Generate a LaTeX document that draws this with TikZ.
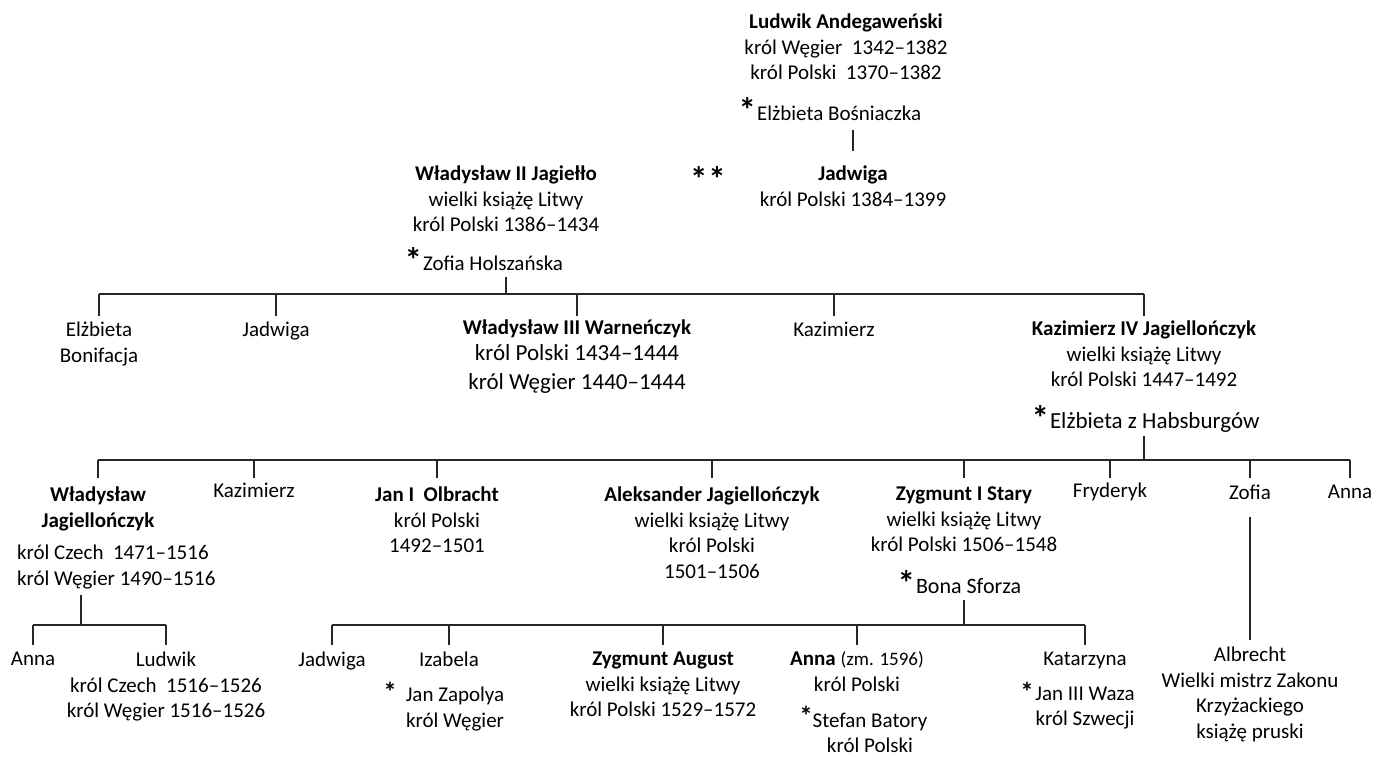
\documentclass[tikz,border=0pt]{standalone}
\usepackage{fontspec}
\setmainfont{Carlito}
\newcommand{\astx}{{\fontsize{35}{35}\selectfont\bfseries *}}
\newcommand{\asts}{{\fontsize{27}{27}\selectfont\bfseries *}}
\begin{document}
\begin{tikzpicture}[x=1pt,y=-1pt,
  every node/.style={inner sep=0pt, outer sep=0pt, align=center, font=\fontsize{21}{25.5}\selectfont, text=black},
  blk/.style={anchor=north},
  big/.style={font=\fontsize{23}{28.5}\selectfont},
  ln/.style={line width=1.3pt, draw=black!85},
  thk/.style={line width=2.6pt, draw=black!85}]
\useasboundingbox (0,0) rectangle (1373,758);

% level 0
\node[blk] (ludwik) at (846,14) {\textbf{Ludwik Andegaweński}\\król Węgier\ \ 1342–1382\\król Polski\ \ 1370–1382};
\node[anchor=base west] (elzb) at (757,120) {Elżbieta Bośniaczka};
\node[anchor=base east] (st1) at ([xshift=-1pt,yshift=-2pt]elzb.base west) {\astx};
\node[blk] (jadw) at (853,166) {\textbf{Jadwiga}\\król Polski 1384–1399};
\node[anchor=base] (st2) at (708,191) {\astx\hspace{1pt}\astx};
\node[blk] (wl2) at (506,166) {\textbf{Władysław II Jagiełło}\\wielki książę Litwy\\król Polski 1386–1434};
\node[anchor=base west] (zofh) at (423,270) {Zofia Holszańska};
\node[anchor=base east] (st3) at ([xshift=-1pt,yshift=-2pt]zofh.base west) {\astx};
\draw[ln] ([yshift=-10pt]elzb.south -| jadw.north) -- ([yshift=15pt]jadw.north);

% level 1
\coordinate (bus1) at (0,294);
\coordinate (end1) at (0,316);
\node[blk] (elzbn) at (99,322) {Elżbieta\\Bonifacja};
\node[blk] (jad2) at (276,322) {Jadwiga};
\node[blk] (wl3) at (577,320) {\textbf{Władysław III Warneńczyk}};
\node[blk,big] (wl3t) at (577,345) {król Polski 1434–1444\\król Węgier 1440–1444};
\node[blk] (kaz1) at (834,322) {Kazimierz};
\node[blk] (kaz4) at (1144,321) {\textbf{Kazimierz IV Jagiellończyk}\\wielki książę Litwy\\król Polski 1447–1492};
\node[anchor=base west,big] (elzh) at (1050,428) {Elżbieta z Habsburgów};
\node[anchor=base east] (st4) at ([xshift=-1pt,yshift=-2pt]elzh.base west) {\astx};
\draw[ln] ([yshift=-7pt]zofh.south -| wl2.south) -- (wl2.south |- bus1);
\draw[ln] (elzbn.north |- bus1) -- (kaz4.north |- bus1);
\foreach \n in {elzbn,jad2,wl3,kaz1,kaz4} \draw[ln] (\n.north |- bus1) -- (\n.north |- end1);

% level 2
\coordinate (bus2) at (0,460);
\coordinate (end2) at (0,478);
\coordinate (thk2) at (514,460);
\node[blk] (wj) at (98,487) {\textbf{Władysław}\\\textbf{Jagiellończyk}};
\node[anchor=north west,align=left] (wjt) at (17,545) {król Czech\ \ 1471–1516\\król Węgier 1490–1516};
\node[blk] (kaz2) at (254,483) {Kazimierz};
\node[blk] (jan) at (437,487) {\textbf{Jan I\ \ Olbracht}\\król Polski\\1492–1501};
\node[blk] (alek) at (712,487) {\textbf{Aleksander Jagiellończyk}\\wielki książę Litwy\\król Polski\\1501–1506};
\node[blk] (zyg) at (964,487) {\textbf{Zygmunt I Stary}\\wielki książę Litwy\\król Polski 1506–1548};
\node[anchor=base west,font=\fontsize{22}{26}\selectfont] (bona) at (916,593) {Bona Sforza};
\node[anchor=base east] (st5) at ([xshift=-1pt,yshift=-2pt]bona.base west) {\astx};
\node[blk] (fry) at (1110,483) {Fryderyk};
\node[blk] (zof) at (1250,485) {Zofia};
\node[blk] (anna1) at (1350,485) {Anna};
\node[blk] (albr) at (1250,647) {Albrecht\\Wielki mistrz Zakonu\\Krzyżackiego\\książę pruski};
\draw[ln] ([yshift=-4pt]elzh.south -| kaz4.south) -- (kaz4.south |- bus2);
\draw[ln] (wj.north |- bus2) -- (anna1.north |- bus2);
\draw[thk] (wj.north |- bus2) -- (thk2);
\foreach \n in {wj,kaz2,jan,alek,zyg,fry,zof,anna1} \draw[ln] (\n.north |- bus2) -- (\n.north |- end2);
\draw[ln] ([yshift=-17pt]zof.south) -- ([yshift=7pt]albr.north);

% level 3 (Wladyslaw's children)
\coordinate (bus3) at (0,625);
\coordinate (end3) at (0,645);
\coordinate (wjstem) at (81,0);
\node[blk] (annaw) at (33,652) {Anna};
\node[blk] (ludw) at (166,652) {Ludwik\\król Czech\ \ 1516–1526\\król Węgier 1516–1526};
\draw[ln] ([yshift=-6pt]wjt.south -| wjstem) -- (wjstem |- bus3);
\draw[ln] (annaw.north |- bus3) -- (ludw.north |- bus3);
\foreach \n in {annaw,ludw} \draw[ln] (\n.north |- bus3) -- (\n.north |- end3);

% level 3 (Zygmunt's children)
\coordinate (bus4) at (0,625);
\coordinate (end4) at (0,645);
\coordinate (thk4a) at (410,625);
\coordinate (thk4b) at (745,625);
\node[blk] (jad3) at (332,652) {Jadwiga};
\node[blk] (iza) at (449,652) {Izabela};
\node[blk] (zapo) at (455,687) {Jan Zapolya\\król Węgier};
\node[anchor=base] (st6) at (390,701) {\asts};
\node[blk] (zyga) at (663,652) {\textbf{Zygmunt August}\\wielki książę Litwy\\król Polski 1529–1572};
\node[blk] (anna2) at (857,652) {\textbf{Anna} {\fontsize{19}{22}\selectfont(zm. 1596)}\\król Polski};
\node[blk] (bat) at (870,713) {Stefan Batory\\król Polski};
\node[anchor=base] (st7) at (806,725) {\asts};
\node[blk] (kat) at (1085,652) {Katarzyna};
\node[blk] (waza) at (1085,687) {Jan III Waza\\król Szwecji};
\node[anchor=base] (st8) at (1027,701) {\asts};
\draw[ln] ([yshift=-7pt]bona.south -| zyg.south) -- (zyg.south |- bus4);
\draw[ln] (jad3.north |- bus4) -- (kat.north |- bus4);
\draw[thk] (thk4a) -- (thk4b);
\foreach \n in {jad3,iza,zyga,anna2,kat} \draw[ln] (\n.north |- bus4) -- (\n.north |- end4);
\end{tikzpicture}
\end{document}
